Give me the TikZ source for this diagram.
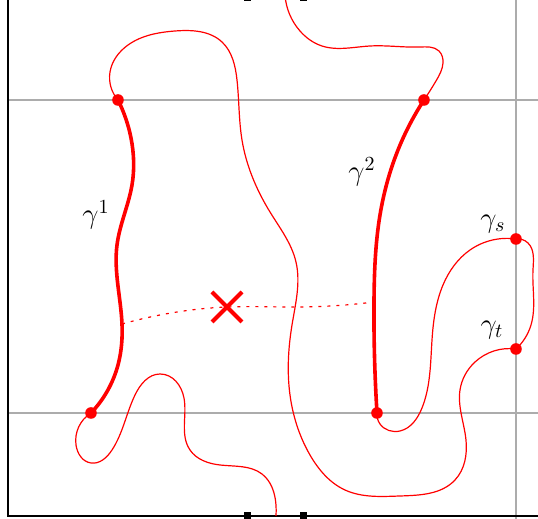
\documentclass[tikz,border=0pt]{standalone}
\usepackage{tikz}
\usetikzlibrary{hobby}
\tikzset{
    grid line/.style={gray!65, line width=1.25pt},
    frame line/.style={black, line width=0.8pt},
    tick box/.style={draw=none, fill=black, rectangle, inner sep=0pt, minimum size=3.5pt},
    thin curve/.style={red, line width=0.6pt, use Hobby shortcut},
    thick curve/.style={red, line width=1.8pt, use Hobby shortcut},
    dot/.style={circle, fill=red, inner sep=0pt, minimum size=5.8pt},
    lbl/.style={font=\Large, inner sep=1pt}
}
\begin{document}
\begin{tikzpicture}[x=0.5pt, y=-0.5pt]
    \useasboundingbox (0,0) rectangle (538,519);

    \draw[grid line] (8,100) -- (540,100);
    \draw[grid line] (8,413) -- (540,413);
    \draw[grid line] (516,-5) -- (516,525);
    \draw[frame line] (8,-5) -- (8,516) -- (540,516);

    \node[tick box] (tl) at (248,-2) {};
    \node[tick box] (tr) at (304,-2) {};
    \node[tick box] (bl) at (248,516) {};
    \node[tick box] (br) at (304,516) {};

    \node[dot] (g1a) at (118,100) {};
    \node[dot] (g1b) at (91,413) {};
    \node[dot] (g2a) at (424,100) {};
    \node[dot] (g2b) at (377,413) {};
    \node[dot] (gs) at (516,239) {};
    \node[dot] (gt) at (516,349) {};
    \coordinate (top) at (285,-5);
    \coordinate (bot) at (276,516);
    \coordinate (m1) at (122,324);
    \coordinate (m2) at (374,302);
    \coordinate (cross) at (227,307);

    \draw[thin curve] (g1a.center) .. (110,72) .. (128,45) .. (175,31) .. (222,42) .. (237,80) .. (242,140) .. (270,212) .. (296,262) .. (292,325) .. (290,395) .. (310,455) .. (345,490) .. (400,496) .. (455,480) .. (466,440) .. (460,390) .. (475,362) .. (gt.center);
    \draw[thin curve] (gt.center) .. (531,325) .. (533,270) .. (528,243) .. (gs.center);
    \draw[thin curve] (gs.center) .. (470,250) .. (443,285) .. (432,340) .. (422,408) .. (400,431) .. (380,424) .. (g2b.center);
    \draw[thin curve] (g2a.center) .. (436,81) .. (443,63) .. (439,51) .. (420,47) .. (370,46) .. (322,46) .. (300,31) .. (top);
    \draw[thin curve] (g1b.center) .. (76,445) .. (91,463) .. (112,450) .. (135,395) .. (160,374) .. (184,398) .. (190,450) .. (220,465) .. (262,474) .. (276,505) .. (bot);

    \draw[thick curve] (g1a.center) .. (131,138) .. (132,185) .. (117,245) .. (m1) .. (118,365) .. (g1b.center);
    \draw[thick curve] (g2a.center) .. (398,150) .. (380,215) .. (m2) .. (g2b.center);

    \draw[red, line width=0.6pt, dash pattern=on 1.5pt off 3pt, use Hobby shortcut] (m1) .. (160,315) .. (cross) .. (300,307) .. (m2);
    \draw[red, line width=2pt] (cross) ++(-15,-15) -- ++(30,30);
    \draw[red, line width=2pt] (cross) ++(-15,15) -- ++(30,-30);

    \node[lbl] (l1) at (96,215) {$\gamma^1$};
    \node[lbl] (l2) at (362,172) {$\gamma^2$};
    \node[lbl] (ls) at (493,224) {$\gamma_s$};
    \node[lbl] (lt) at (492,330) {$\gamma_t$};
\end{tikzpicture}
\end{document}
